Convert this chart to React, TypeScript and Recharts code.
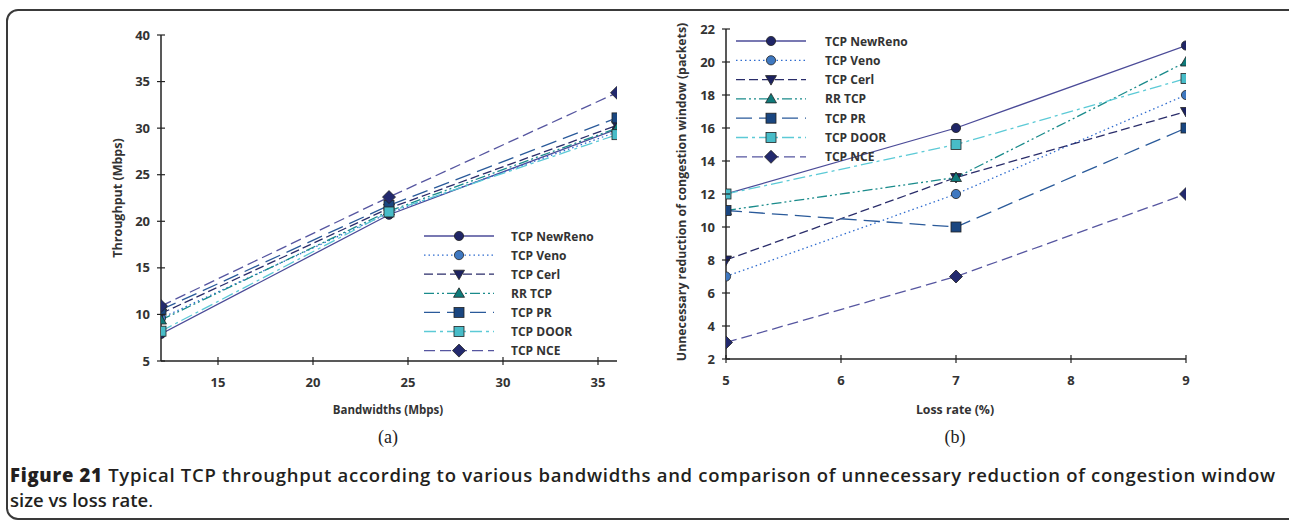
import { LineChart, Line, XAxis, YAxis, Legend } from 'recharts'

// (a) throughput vs bandwidth
const bandwidths = [12, 24, 36]
const thrNewReno = [7.9, 20.7, 29.9]
const thrVeno = [9.6, 20.9, 29.6]
const thrCerl = [10.1, 21.4, 30.3]
const thrRR = [9.4, 21.1, 30.0]
const thrPR = [10.5, 21.7, 31.1]
const thrDoor = [8.2, 21.0, 29.3]
const thrNCE = [10.9, 22.6, 33.8]

// (b) unnecessary cwnd reduction vs loss rate
const lossRates = [5, 7, 9]
const cwNewReno = [12, 16, 21]
const cwVeno = [7, 12, 18]
const cwCerl = [8, 13, 17]
const cwRR = [11, 13, 20]
const cwPR = [11, 10, 16]
const cwDoor = [12, 15, 19]
const cwNCE = [3, 7, 12]

const seriesNames = ['TCP NewReno', 'TCP Veno', 'TCP Cerl', 'RR TCP', 'TCP PR', 'TCP DOOR', 'TCP NCE']

const bwTicks = [15, 20, 25, 30, 35]
const thrTicks = [5, 10, 15, 20, 25, 30, 35, 40]
const lossTicks = [5, 6, 7, 8, 9]
const cwTicks = [2, 4, 6, 8, 10, 12, 14, 16, 18, 20, 22]

type Shape = 'circle' | 'tri-down' | 'tri-up' | 'square' | 'diamond'

const looks: { key: string; line: string; fill: string; dash?: string; shape: Shape }[] = [
  { key: 's0', line: '#4b4b98', fill: '#1f2566', shape: 'circle' },
  { key: 's1', line: '#2f6ccf', fill: '#3f78c0', dash: '1.5 3', shape: 'circle' },
  { key: 's2', line: '#2a2d6a', fill: '#1c2260', dash: '9 4', shape: 'tri-down' },
  { key: 's3', line: '#1a8b8b', fill: '#0f7a7a', dash: '10 3 2 3 2 3', shape: 'tri-up' },
  { key: 's4', line: '#2a5a9a', fill: '#1a4680', dash: '16 7', shape: 'square' },
  { key: 's5', line: '#5ccad6', fill: '#48bcc8', dash: '12 4 3 4', shape: 'square' },
  { key: 's6', line: '#5656a0', fill: '#232a6e', dash: '11 5', shape: 'diamond' },
]

const toRows = (xs: number[], ys: number[][]) =>
  xs.map((x, i) => {
    const row: Record<string, number> = { x }
    ys.forEach((s, j) => { row[`s${j}`] = s[i] })
    return row
  })

const thrData = toRows(bandwidths, [thrNewReno, thrVeno, thrCerl, thrRR, thrPR, thrDoor, thrNCE])
const cwData = toRows(lossRates, [cwNewReno, cwVeno, cwCerl, cwRR, cwPR, cwDoor, cwNCE])

const tickFont = { fontFamily: 'Open Sans', fontWeight: 700, fontSize: 13, fill: '#333' }
const labelFont = { fontFamily: 'Open Sans', fontWeight: 700, fontSize: 11.5, color: '#333' }

function Marker({ shape, cx, cy, fill }: { shape: Shape; cx: number; cy: number; fill: string }) {
  const st = { fill, stroke: '#222', strokeWidth: 0.8 }
  if (shape === 'circle') return <circle cx={cx} cy={cy} r={4.6} {...st} />
  if (shape === 'square') return <rect x={cx - 5} y={cy - 5} width={10} height={10} {...st} />
  if (shape === 'tri-up') return <path d={`M${cx},${cy - 5.5}L${cx + 5.5},${cy + 4}L${cx - 5.5},${cy + 4}Z`} {...st} />
  if (shape === 'tri-down') return <path d={`M${cx},${cy + 5.5}L${cx + 5.5},${cy - 4}L${cx - 5.5},${cy - 4}Z`} {...st} />
  return <path d={`M${cx},${cy - 6.5}L${cx + 6.5},${cy}L${cx},${cy + 6.5}L${cx - 6.5},${cy}Z`} {...st} />
}

const LeftTick = ({ x, y, payload }: any) => (
  <g>
    <line x1={x - 4} x2={x + 4} y1={y} y2={y} stroke="#222" strokeWidth={1.2} />
    <text x={x - 11} y={y} dy={4.5} textAnchor="end" style={tickFont}>{payload.value}</text>
  </g>
)
const BottomTick = ({ x, y, payload }: any) => (
  <g>
    <line x1={x} x2={x} y1={y - 4} y2={y + 4} stroke="#222" strokeWidth={1.2} />
    <text x={x} y={y + 21} dy={4.5} textAnchor="middle" style={tickFont}>{payload.value}</text>
  </g>
)
const mkHTick = (stroke: string) => ({ x, y }: any) => (
  <line x1={x} x2={x} y1={y - 5} y2={y + 5} stroke={stroke} strokeWidth={1.2} />
)
const mkVTick = (stroke: string) => ({ x, y }: any) => (
  <line x1={x - 5} x2={x + 5} y1={y} y2={y} stroke={stroke} strokeWidth={1.2} />
)

function LegendBox({ labelX, rowGap }: { labelX: number; rowGap: number }) {
  return (
    <svg width={200} height={150}>
      {looks.map((l, i) => {
        const y = 11 + i * rowGap
        return (
          <g key={l.key}>
            <line x1={4} x2={74} y1={y} y2={y} stroke={l.line} strokeWidth={1.3} strokeDasharray={l.dash} />
            <Marker shape={l.shape} cx={39} cy={y} fill={l.fill} />
            <text x={labelX} y={y} dy={4.5} style={{ fontFamily: 'Open Sans', fontWeight: 700, fontSize: 12, fill: '#333' }}>
              {seriesNames[i]}
            </text>
          </g>
        )
      })}
    </svg>
  )
}

function Panel({ data, xDomain, xTicks, yDomain, yTicks, margin, width, legendPos, labelX, rowGap, rightStroke }: any) {
  return (
    <LineChart width={width} height={420} data={data} margin={margin}>
      <XAxis dataKey="x" type="number" domain={xDomain} ticks={xTicks} interval={0} allowDataOverflow
        height={30} tickSize={0} tickMargin={0} tickLine={false} tick={BottomTick}
        axisLine={{ stroke: '#222', strokeWidth: 1.5 }} />
      <XAxis xAxisId="top" dataKey="x" type="number" orientation="top" domain={xDomain} ticks={xTicks} interval={0}
        allowDataOverflow height={0} tickSize={0} tickMargin={0} tickLine={false} tick={mkHTick('#777')}
        axisLine={{ stroke: '#777', strokeWidth: 1.5 }} />
      <YAxis type="number" domain={yDomain} ticks={yTicks} interval={0} allowDataOverflow width={40}
        tickSize={0} tickMargin={0} tickLine={false} tick={LeftTick}
        axisLine={{ stroke: '#222', strokeWidth: 1.5 }} />
      <YAxis yAxisId="right" type="number" orientation="right" domain={yDomain} ticks={yTicks} interval={0}
        allowDataOverflow width={0} tickSize={0} tickMargin={0} tickLine={false} tick={mkVTick(rightStroke)}
        axisLine={{ stroke: rightStroke, strokeWidth: 1.5 }} />
      <Legend layout="vertical" align="center" verticalAlign="middle"
        wrapperStyle={{ left: legendPos[0], top: legendPos[1], width: 200, height: 150 }}
        content={() => <LegendBox labelX={labelX} rowGap={rowGap} />} />
      {looks.map((l, i) => (
        <Line key={l.key} dataKey={l.key} name={seriesNames[i]} stroke={l.line} strokeWidth={1.3}
          strokeDasharray={l.dash} isAnimationActive={false} legendType="none"
          dot={(p: any) => <Marker key={`${l.key}-${p.index}`} shape={l.shape} cx={p.cx} cy={p.cy} fill={l.fill} />}
          activeDot={false} />
      ))}
    </LineChart>
  )
}

const abs = (left: number, top: number, extra: any = {}) =>
  ({ position: 'absolute' as const, left, top, ...extra })

const captionFont = { fontFamily: 'Open Sans', fontSize: 18.5, fontWeight: 600, fill: '#231f20' }

export default function App() {
  return (
    <div style={{ position: 'absolute', left: 0, top: 0, width: 1289, height: 520, overflow: 'hidden', background: '#fff' }}>
      <div style={abs(6, 9, { width: 1320, height: 511, border: '2px solid #3a3a3a', borderRadius: 12, boxSizing: 'border-box' })} />

      <div style={abs(0, 0)}>
        <Panel data={thrData} xDomain={[12, 36]} xTicks={bwTicks} yDomain={[5, 40]} yTicks={thrTicks}
          width={640} margin={{ top: 35, right: 23, bottom: 29, left: 121 }}
          legendPos={[420, 225]} labelX={91} rowGap={19.1} rightStroke="#777" />
      </div>
      <div style={abs(650, 0)}>
        <Panel data={cwData} xDomain={[5, 9]} xTicks={lossTicks} yDomain={[2, 22]} yTicks={cwTicks}
          width={600} margin={{ top: 29, right: 64, bottom: 31, left: 36 }}
          legendPos={[82, 30]} labelX={93} rowGap={19.3} rightStroke="#222" />
      </div>

      <div style={abs(117, 198, { ...labelFont, fontSize: 12.5, transform: 'translate(-50%,-50%) rotate(-90deg)', whiteSpace: 'nowrap' })}>
        Throughput (Mbps)
      </div>
      <div style={abs(388, 409, { ...labelFont, transform: 'translate(-50%,-50%)', whiteSpace: 'nowrap' })}>
        Bandwidths (Mbps)
      </div>
      <div style={abs(681, 192, { ...labelFont, fontSize: 12.3, transform: 'translate(-50%,-50%) rotate(-90deg)', whiteSpace: 'nowrap' })}>
        Unnecessary reduction of congestion window (packets)
      </div>
      <div style={abs(955, 409, { ...labelFont, fontSize: 12.3, transform: 'translate(-50%,-50%)', whiteSpace: 'nowrap' })}>
        Loss rate (%)
      </div>
      <div style={abs(388, 437, { fontFamily: 'Liberation Serif', fontSize: 18, color: '#222', transform: 'translate(-50%,-50%)' })}>(a)</div>
      <div style={abs(955, 437, { fontFamily: 'Liberation Serif', fontSize: 18, color: '#222', transform: 'translate(-50%,-50%)' })}>(b)</div>

      <svg style={abs(0, 455)} width={1289} height={65}>
        <text x={10} y={27} textLength={1265} lengthAdjust="spacing" style={captionFont}>
          <tspan fontWeight={800}>Figure 21</tspan> Typical TCP throughput according to various bandwidths and comparison of unnecessary reduction of congestion window
        </text>
        <text x={10} y={52} style={captionFont}>
          size vs loss rate<tspan fontWeight={400}>.</tspan>
        </text>
      </svg>
    </div>
  )
}
